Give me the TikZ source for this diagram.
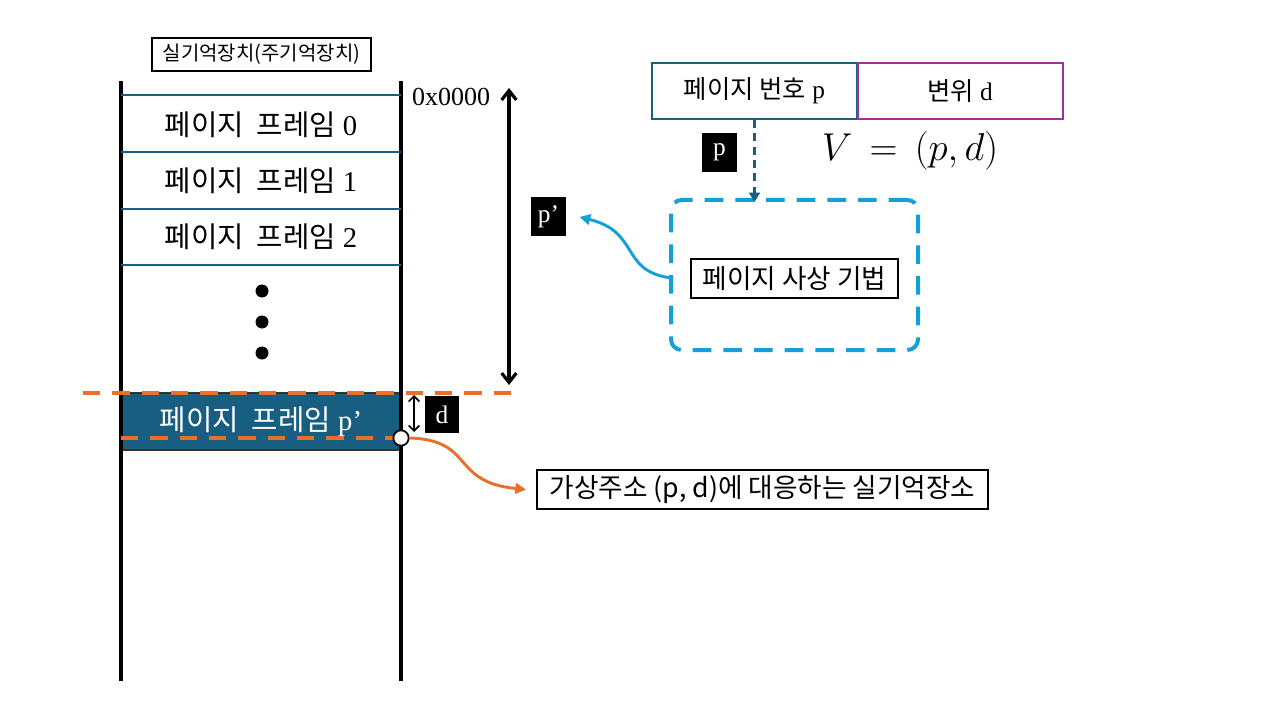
\documentclass[tikz,border=0pt]{standalone}
\usepackage{fontspec}
\setmainfont{Liberation Serif}
\newfontfamily\kr{Noto Sans CJK KR}
\usetikzlibrary{arrows.meta,calc}
\definecolor{tealline}{HTML}{1B5F7E}
\definecolor{tealfill}{HTML}{175E80}
\definecolor{orng}{HTML}{E8702A}
\definecolor{purp}{HTML}{A0309A}
\definecolor{skyb}{HTML}{13A0D8}
\tikzset{
  lbl/.style={inner sep=0pt, font=\fontsize{21.5pt}{24pt}\selectfont},
  framebox/.style={draw=black, line width=1.5pt, inner sep=0pt, fill=white},
  blackbox/.style={fill=black, text=white, inner sep=0pt, minimum width=26.25pt, minimum height=29.25pt, font=\fontsize{19pt}{21pt}\selectfont},
  memwall/.style={line width=3pt, black},
  rowline/.style={line width=1.5pt, tealline},
  odash/.style={line width=2.4pt, orng, dash pattern=on 13pt off 9pt},
}
\begin{document}
\begin{tikzpicture}[x=0.75pt,y=-0.75pt]
\useasboundingbox (0,0) rectangle (1280,720);
% memory walls
\coordinate (wl1) at (121,81); \coordinate (wl2) at (121,681);
\coordinate (wr1) at (401,81); \coordinate (wr2) at (401,681);
% page frame p' fill
\node[fill=tealfill, draw=black!80, line width=1.2pt, minimum width=210pt, minimum height=42.75pt, inner sep=0pt] (fp) at (261,421.5) {};
\draw[memwall] (wl1) -- (wl2);
\draw[memwall] (wr1) -- (wr2);
% row lines
\foreach \yy in {95,152,209,265} { \draw[rowline] (121,\yy) -- (401,\yy); }
% title
\node[framebox, minimum width=164.25pt, minimum height=24.75pt, font=\kr\fontsize{15pt}{17pt}\selectfont] (title) at (261.5,54.5) {실기억장치(주기억장치)};
% frame labels
\node[lbl] (f0) at (261,125) {{\kr 페이지\ \ 프레임} 0};
\node[lbl] (f1) at (261,181) {{\kr 페이지\ \ 프레임} 1};
\node[lbl] (f2) at (261,237) {{\kr 페이지\ \ 프레임} 2};
\foreach \yy in {291,322,353} { \fill (262,\yy) circle (6.5); }
\node[lbl, text=white] (fpl) at (261,422) {{\kr 페이지\ \ 프레임} p’};
% address
\node[inner sep=0pt, font=\fontsize{19.5pt}{21pt}\selectfont] (addr) at (451,97) {0x0000};
% big double arrow
\coordinate (ba1) at (509,88); \coordinate (ba2) at (509,385);
\draw[line width=2.4pt, {Straight Barb[length=7pt,width=11pt]}-{Straight Barb[length=7pt,width=11pt]}] (ba1) -- (ba2);
% orange dashed lines
\coordinate (od1) at (83,393); \coordinate (od2) at (512,393);
\draw[odash] (od1) -- (od2);
\coordinate (od3) at (121,438); \coordinate (od4) at (395,438);
\draw[odash] (od3) -- (od4);
% d arrow
\coordinate (da1) at (414,395); \coordinate (da2) at (414,432);
\draw[line width=1.2pt, {Straight Barb[length=4pt,width=8pt]}-{Straight Barb[length=4pt,width=8pt]}] (da1) -- (da2);
\node[blackbox, minimum width=25.5pt, minimum height=27.75pt] (dbox) at (442,414.5) {d};
% circle
\node[circle, draw=black, fill=white, line width=1.3pt, minimum size=11.5pt, inner sep=0pt] (pt) at (401,438) {};
% bottom label
\node[framebox, minimum width=338.25pt, minimum height=29.25pt, font=\kr\fontsize{20pt}{22pt}\selectfont] (real) at (762.5,489.5) {가상주소 (p, d)에 대응하는 실기억장소};
\draw[orng, line width=2.2pt, -{Triangle[length=8pt,width=8pt]}] (pt.east) .. controls (475,440) and (450,482) .. ([xshift=-7.5pt]real.west);
% virtual address
\node[draw=tealline, line width=1.5pt, minimum width=153.75pt, minimum height=42pt, inner sep=0pt, font=\fontsize{19pt}{21pt}\selectfont] (pn) at (754.5,91) {{\kr 페이지\ 번호} p};
\node[draw=purp, line width=1.5pt, minimum width=153.75pt, minimum height=42pt, inner sep=0pt, font=\fontsize{19pt}{21pt}\selectfont] (off) at (960,91) {{\kr 변위} d};
\node[blackbox] (pbox) at (719.5,152.5) {p};
\node[inner sep=0pt] (veq) at (910,151) {\scalebox{1.17}{\fontsize{24.88pt}{28pt}\selectfont$V\,=\,(p,d)$}};
% mapping
\node[draw=skyb, line width=3pt, dash pattern=on 14pt off 9pt, rounded corners=8pt, minimum width=185.25pt, minimum height=112.5pt, inner sep=0pt] (map) at (794.5,275) {};
\draw[tealline, line width=2.2pt, dash pattern=on 6pt off 4pt, -{Triangle[length=7pt,width=8pt]}] (pn.south) -- ([yshift=-3pt]map.north -| pn.south);
\node[framebox, minimum width=155.25pt, minimum height=29.25pt, font=\kr\fontsize{20pt}{22pt}\selectfont] (mapl) at (794.5,278.5) {페이지\ 사상\ 기법};
\node[blackbox] (ppbox) at (548.5,217) {p’};
\draw[skyb, line width=2.2pt, -{Triangle[length=8pt,width=8pt]}] ([yshift=-2pt]map.west) .. controls (620,270) and (640,232) .. ([xshift=10pt]ppbox.east);
\end{tikzpicture}
\end{document}
